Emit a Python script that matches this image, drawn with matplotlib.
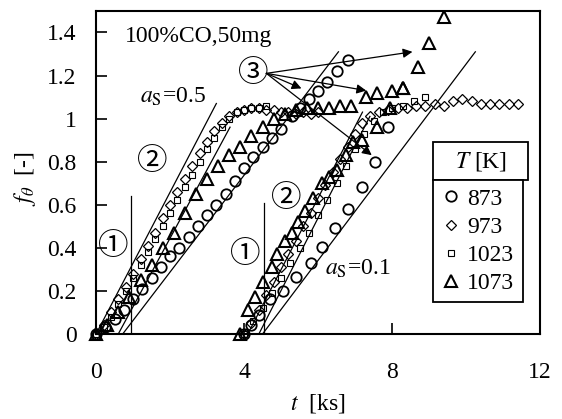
import matplotlib.pyplot as plt
from matplotlib.patches import Rectangle

plt.rcParams['font.family'] = ['Liberation Serif', 'DejaVu Serif']
plt.rcParams['mathtext.fontset'] = 'stix'

# --- runs starting at t = 0 (a_S = 0.5) ---
t_873a = [0, 0.25, 0.5, 0.75, 1.0, 1.25, 1.5, 1.75, 2.0, 2.25, 2.5, 2.75, 3.0, 3.25,
          3.5, 3.75, 4.0, 4.25, 4.5, 4.75, 5.0, 5.3, 5.5, 5.75, 6.0, 6.25, 6.5, 6.8]
f_873a = [0, 0.03, 0.07, 0.11, 0.16, 0.21, 0.26, 0.31, 0.36, 0.40, 0.45, 0.50, 0.55, 0.60,
          0.65, 0.71, 0.77, 0.82, 0.87, 0.91, 0.95, 1.01, 1.05, 1.09, 1.13, 1.17, 1.22, 1.27]

t_973a = [0, 0.2, 0.4, 0.6, 0.8, 1.0, 1.2, 1.4, 1.6, 1.8, 2.0, 2.2, 2.4, 2.6, 2.8, 3.0,
          3.2, 3.4, 3.6, 3.8, 4.0, 4.2, 4.4, 4.6, 4.8, 5.0, 5.2, 5.4, 5.6, 5.8, 6.0]
f_973a = [0, 0.04, 0.10, 0.16, 0.22, 0.28, 0.35, 0.41, 0.47, 0.54, 0.60, 0.66, 0.72, 0.78,
          0.84, 0.89, 0.94, 0.98, 1.01, 1.03, 1.04, 1.05, 1.05, 1.04, 1.04, 1.03, 1.03,
          1.02, 1.03, 1.02, 1.03]

t_1023a = [0, 0.2, 0.4, 0.6, 0.8, 1.0, 1.2, 1.4, 1.6, 1.8, 2.0, 2.2, 2.4, 2.6, 2.8, 3.0,
           3.2, 3.4, 3.6, 3.8, 4.0, 4.2, 4.4, 4.6]
f_1023a = [0, 0.03, 0.08, 0.14, 0.20, 0.26, 0.32, 0.38, 0.44, 0.50, 0.56, 0.62, 0.68, 0.74,
           0.80, 0.86, 0.91, 0.96, 1.00, 1.03, 1.04, 1.05, 1.05, 1.06]

t_1073a = [0, 0.3, 0.6, 0.9, 1.2, 1.5, 1.8, 2.1, 2.4, 2.7, 3.0, 3.3, 3.6, 3.9, 4.2, 4.5,
           4.8, 5.1, 5.4, 5.7, 6.0, 6.3, 6.6, 6.9, 7.3, 7.6, 8.0, 8.3]
f_1073a = [0, 0.04, 0.10, 0.17, 0.25, 0.32, 0.40, 0.47, 0.56, 0.65, 0.72, 0.78, 0.83, 0.87,
           0.92, 0.96, 1.00, 1.02, 1.04, 1.05, 1.05, 1.05, 1.06, 1.06, 1.10, 1.12, 1.13, 1.14]

# --- runs shifted to start at t = 4 (a_S = 0.1) ---
t_873b = [4.0, 4.2, 4.4, 4.7, 5.05, 5.4, 5.8, 6.1, 6.46, 6.8, 7.2, 7.55, 7.9]
f_873b = [0, 0.04, 0.09, 0.16, 0.20, 0.265, 0.33, 0.405, 0.49, 0.58, 0.68, 0.80, 0.96]

t_973b = [4.0, 4.2, 4.4, 4.6, 4.8, 5.0, 5.2, 5.4, 5.6, 5.8, 6.0, 6.2, 6.4, 6.6, 6.8, 7.0,
          7.2, 7.4, 7.65, 7.9, 8.15, 8.4, 8.65, 8.9, 9.15, 9.4, 9.65, 9.9, 10.15, 10.4,
          10.65, 10.9, 11.15, 11.4]
f_973b = [0, 0.05, 0.11, 0.18, 0.24, 0.31, 0.37, 0.43, 0.50, 0.56, 0.63, 0.69, 0.75, 0.81,
          0.87, 0.93, 0.98, 1.01, 1.03, 1.04, 1.05, 1.05, 1.06, 1.06, 1.07, 1.06, 1.08,
          1.09, 1.08, 1.07, 1.07, 1.07, 1.07, 1.07]

t_1023b = [4.0, 4.25, 4.5, 4.75, 5.0, 5.25, 5.5, 5.75, 6.0, 6.25, 6.5, 6.75, 7.0, 7.25,
           7.5, 7.75, 8.0, 8.3, 8.6, 8.9]
f_1023b = [0, 0.06, 0.12, 0.19, 0.26, 0.33, 0.40, 0.47, 0.55, 0.62, 0.70, 0.78, 0.86, 0.93,
           0.99, 1.03, 1.05, 1.06, 1.08, 1.10]

t_1073b = [3.9, 4.1, 4.3, 4.5, 4.75, 4.9, 5.1, 5.3, 5.45, 5.65, 5.85, 6.1, 6.3, 6.5, 6.75,
           6.95, 7.2, 7.6, 7.95, 8.3, 8.7, 9.0, 9.4]
f_1073b = [0, 0.11, 0.17, 0.24, 0.31, 0.37, 0.43, 0.47, 0.52, 0.57, 0.63, 0.70, 0.73, 0.76,
           0.83, 0.89, 0.90, 0.96, 1.05, 1.14, 1.24, 1.35, 1.47]

# straight fitted lines (start, end)
fit_t = [[0.0, 3.25], [0.6, 3.62], [0.72, 6.55], [4.1, 7.2], [4.4, 7.4], [4.5, 10.25]]
fit_f = [[0.0, 1.07], [0.0, 0.96], [0.0, 1.31], [0.0, 1.03], [0.0, 1.01], [0.0, 1.31]]

# induction period markers (region 1)
vline_t = [0.95, 4.54]
vline_top = [0.64, 0.61]

# arrows from label 3
arrow_from = (4.6, 1.21)
arrow_t = [8.55, 5.55, 7.3, 7.45]
arrow_f = [1.31, 1.14, 1.13, 0.83]

temps = ['873', '973', '1023', '1073']
styles = {
    '873': dict(marker='o', ms=7.5, mew=1.3),
    '973': dict(marker='D', ms=5.0, mew=0.9),
    '1023': dict(marker='s', ms=5.0, mew=0.8),
    '1073': dict(marker='^', ms=8.0, mew=1.5),
}
runs = {
    '873': [(t_873a, f_873a), (t_873b, f_873b)],
    '973': [(t_973a, f_973a), (t_973b, f_973b)],
    '1023': [(t_1023a, f_1023a), (t_1023b, f_1023b)],
    '1073': [(t_1073a, f_1073a), (t_1073b, f_1073b)],
}

fig, ax = plt.subplots(figsize=(5.62, 4.19), dpi=100)
fig.subplots_adjust(left=0.171, right=0.961, bottom=0.203, top=0.974)

for T in temps:
    for i, (t, f) in enumerate(runs[T]):
        ax.plot(t, f, ls='none', mfc='none', mec='black', clip_on=False,
                label=T if i == 0 else None, **styles[T])

for t, f in zip(fit_t, fit_f):
    ax.plot(t, f, color='black', lw=0.9)

for t, top in zip(vline_t, vline_top):
    ax.plot([t, t], [0, top], color='black', lw=0.9)

for t, f in zip(arrow_t, arrow_f):
    ax.annotate('', xy=(t, f), xytext=arrow_from,
                arrowprops=dict(arrowstyle='-|>', color='black', lw=0.9,
                                mutation_scale=14, shrinkA=0, shrinkB=0))

cjk = ['Noto Sans CJK JP', 'DejaVu Sans']
ax.text(0.46, 0.405, '①', family=cjk, fontsize=22, ha='center', va='center')
ax.text(4.03, 0.367, '①', family=cjk, fontsize=22, ha='center', va='center')
ax.text(1.51, 0.80, '②', family=cjk, fontsize=22, ha='center', va='center')
ax.text(5.13, 0.63, '②', family=cjk, fontsize=22, ha='center', va='center')
ax.text(4.25, 1.21, '③', family=cjk, fontsize=22, ha='center', va='center')

ax.text(0.78, 1.38, '100%CO,50mg', fontsize=17, va='center')
ax.text(1.2, 1.10, r'$a_{\rm S}$=0.5', fontsize=17, va='center')
ax.text(6.2, 0.30, r'$a_{\rm S}$=0.1', fontsize=17, va='center')

ax.set_xlim(0, 12)
ax.set_ylim(0, 1.5)
ax.set_xticks([0, 4, 8, 12])
ax.set_yticks([0, 0.2, 0.4, 0.6, 0.8, 1.0, 1.2, 1.4])
ax.set_yticklabels(['0', '0.2', '0.4', '0.6', '0.8', '1', '1.2', '1.4'])
ax.tick_params(axis='both', direction='in', length=8, width=1.2, labelsize=17)
ax.tick_params(axis='x', pad=20)
ax.tick_params(axis='y', pad=14)
for s in ax.spines.values():
    s.set_linewidth(1.5)

ax.set_xlabel(r'$t$  [ks]', fontsize=17)
ax.xaxis.set_label_coords(0.5, -0.18)
ax.set_ylabel(r'$f_{\theta}$  [-]', fontsize=17)
ax.yaxis.set_label_coords(-0.13, 0.48)

leg = ax.legend(loc='upper left', bbox_to_anchor=(0.759, 0.477), borderaxespad=0,
                fontsize=17, numpoints=1, handlelength=0.8, handletextpad=0.3,
                labelspacing=0.28, borderpad=0.35, fancybox=False, framealpha=1)
leg.get_frame().set_edgecolor('black')
leg.get_frame().set_linewidth(1.3)

ax.add_patch(Rectangle((0.759, 0.477), 0.214, 0.117, transform=ax.transAxes,
                       fill=False, ec='black', lw=1.3))
ax.text(0.866, 0.535, r'$T$ [K]', transform=ax.transAxes, fontsize=17,
        ha='center', va='center')

plt.savefig('out.png', dpi=100)
